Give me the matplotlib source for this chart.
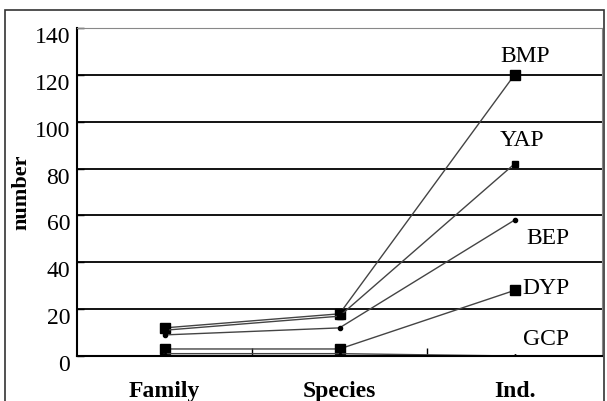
import matplotlib.pyplot as plt
import matplotlib.transforms as mtransforms
from matplotlib.patches import Rectangle

plt.rcParams['font.family'] = ['Liberation Serif', 'DejaVu Serif']

levels = ["Family", "Species", "Ind."]
bmp = [12, 18, 120]
yap = [11, 17, 82]
bep = [9, 12, 58]
dyp = [3, 3, 28]
gcp = [1, 1, 0]
names = ["BMP", "YAP", "BEP", "DYP", "GCP"]

fig = plt.figure(figsize=(6.07, 4.01), dpi=100)
ax = fig.add_axes([77/607, 1-356/401, 525/607, 328/401])

# outer frame round the whole figure
fig.patches.append(Rectangle((5/607, -0.05), 599/607, 1.05 - 10/401,
                             transform=fig.transFigure, fill=False,
                             edgecolor='#333333', linewidth=1.2))

x = range(len(levels))
line_kw = dict(color='#444444', linewidth=1.0)
ax.plot(x, bmp, marker='s', markersize=7, markerfacecolor='black', markeredgecolor='black', **line_kw)
ax.plot(x, yap, marker='s', markersize=4.5, markerfacecolor='black', markeredgecolor='black', **line_kw)
ax.plot(x, bep, marker='o', markersize=3, markerfacecolor='black', markeredgecolor='black', **line_kw)
ax.plot(x, dyp, marker='s', markersize=6.5, markerfacecolor='black', markeredgecolor='black', **line_kw)
ax.plot(x, gcp, marker='^', markersize=3, markerfacecolor='black', markeredgecolor='black', **line_kw)

# series names next to the Ind. points
label_pos = {"BMP": (2.06, 128), "YAP": (2.04, 92), "BEP": (2.19, 50),
             "DYP": (2.18, 29), "GCP": (2.18, 7)}
for n in names:
    ax.text(label_pos[n][0], label_pos[n][1], n, fontsize=17, ha='center', va='center')

ax.set_xlim(-0.5, 2.5)
ax.set_ylim(0, 140)
ax.set_yticks(range(0, 141, 20))
ax.set_xticks(list(x))
ax.set_xticklabels(levels, fontsize=17, fontweight='bold')
ax.set_xticks([0.5, 1.5], minor=True)
ax.tick_params(axis='x', which='major', length=0, pad=18)
ax.tick_params(axis='x', which='minor', direction='in', length=6, width=1)
ax.tick_params(axis='y', direction='in', length=5, width=1, labelsize=17, pad=5)
for lab in ax.get_yticklabels():
    lab.set_transform(lab.get_transform() + mtransforms.ScaledTranslation(0, -7/100, fig.dpi_scale_trans))

ax.yaxis.grid(True, color='black', linewidth=1.3)
ax.set_axisbelow(True)
ax.set_ylabel("number", fontsize=16, fontweight='bold')
ax.yaxis.set_label_coords(-46/525, 0.5)

ax.spines['left'].set_color('black')
ax.spines['bottom'].set_color('black')
ax.spines['left'].set_linewidth(1.5)
ax.spines['bottom'].set_linewidth(1.5)
ax.spines['top'].set_color('#888888')
ax.spines['right'].set_color('#888888')

fig.savefig('out.png', dpi=100)
